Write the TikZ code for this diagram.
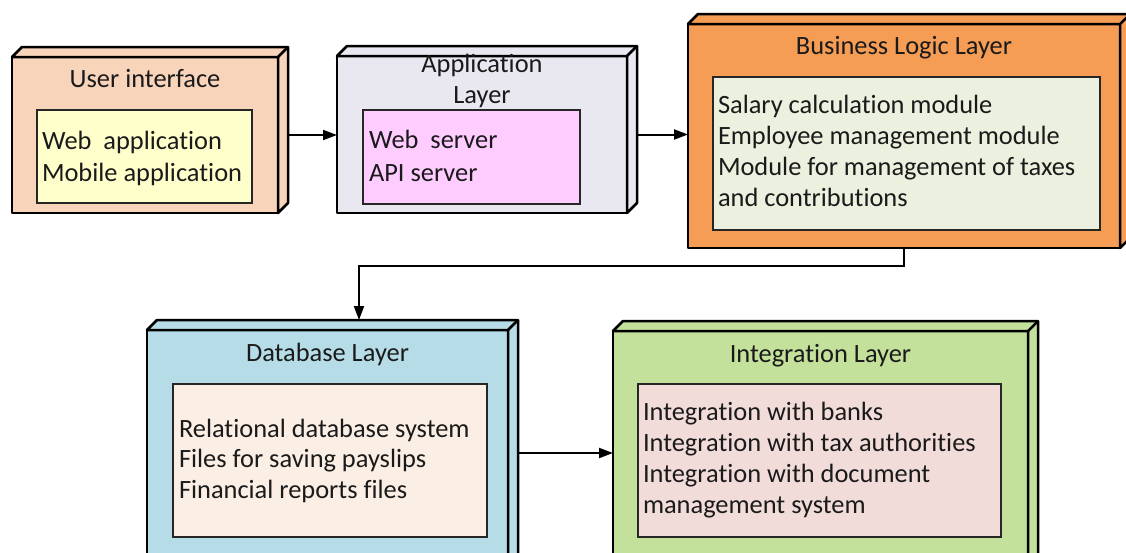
\documentclass[tikz,border=0pt]{standalone}
\usepackage{fontspec}
\setmainfont{Carlito}[Ligatures=NoCommon]
\usetikzlibrary{arrows.meta}

\definecolor{uiface}{HTML}{F8D4BB}
\definecolor{uifill}{HTML}{FFFFCC}
\definecolor{appface}{HTML}{E9E7EF}
\definecolor{appfill}{HTML}{FFCCFF}
\definecolor{blface}{HTML}{F59C55}
\definecolor{blfill}{HTML}{EBF0DF}
\definecolor{dbface}{HTML}{B6DDE7}
\definecolor{dbfill}{HTML}{FBEEE4}
\definecolor{intface}{HTML}{C3E19B}
\definecolor{intfill}{HTML}{F1DCDA}
\definecolor{ink}{HTML}{1A1A1A}

% top and right faces of a layer block, built on the front face node #1
\newcommand\blockdepth[2]{%
  \filldraw[fill=#2, draw=black, line width=2.5pt, line join=round]
    (#1.north west) -- ++(10,-10) -- ([shift={(10,-10)}]#1.north east)
    -- ([shift={(10,-10)}]#1.south east) -- (#1.south east)
    -- (#1.north east) -- cycle;
  \draw[line width=2.5pt] (#1.north east) -- ++(10,-10);
}

\begin{document}
\begin{tikzpicture}[x=1pt, y=-1pt,
  front/.style={draw=black, line width=2.5pt, outer sep=0pt, inner sep=0pt, line join=round},
  panel/.style={draw=black!85, line width=1.7pt, outer sep=0pt, inner sep=0pt},
  txt/.style={inner sep=0pt, outer sep=0pt, text=ink, font=\fontsize{26.4}{31.5}\selectfont},
  flow/.style={line width=2pt, -{Triangle[length=14pt, width=10pt]}}
]
\useasboundingbox (0,0) rectangle (1126,552);
\clip (0,0) rectangle (1126,552);

% ---- User interface ----
\node[front, fill=uiface, minimum width=266pt, minimum height=156pt] (ui) at (145,135) {};
\blockdepth{ui}{uiface}
\node[panel, fill=uifill, minimum width=215pt, minimum height=93pt] (uiin) at (144.5,156.5) {};
\node[txt, anchor=base] (ui-t) at (145,87) {User interface};
\node[txt, anchor=base west] (ui-l1) at (42,149) {Web\ \ application};
\node[txt, anchor=base west] (ui-l2) at (42,181) {Mobile application};

% ---- Application layer ----
\node[front, fill=appface, minimum width=290pt, minimum height=157pt] (app) at (482,134.5) {};
\blockdepth{app}{appface}
\node[panel, fill=appfill, minimum width=217pt, minimum height=94pt] (appin) at (471.5,157) {};
\node[txt, anchor=base] (app-t1) at (482,72) {Application};
\node[txt, anchor=base] (app-t2) at (482,103) {Layer};
\node[txt, anchor=base west] (app-l1) at (369,148) {Web\ \ server};
\node[txt, anchor=base west] (app-l2) at (369,181) {API server};

% ---- Business logic layer ----
\node[front, fill=blface, minimum width=432pt, minimum height=224pt] (bl) at (904,136) {};
\blockdepth{bl}{blface}
\node[panel, fill=blfill, minimum width=387pt, minimum height=153pt] (blin) at (906.5,153.5) {};
\node[txt, anchor=base] (bl-t) at (904,54) {Business Logic Layer};
\foreach \t [count=\k] in {Salary calculation module, Employee management module,
    Module for management of taxes, and contributions}
  \node[txt, anchor=base west] (bl-l\k) at (718,{113+31.3*(\k-1)}) {\t};

% ---- Database layer ----
\node[front, fill=dbface, minimum width=361pt, minimum height=246pt] (db) at (327.5,453) {};
\blockdepth{db}{dbface}
\node[panel, fill=dbfill, minimum width=314pt, minimum height=153pt] (dbin) at (330,460.5) {};
\node[txt, anchor=base] (db-t) at (327.5,361) {Database Layer};
\foreach \t [count=\k] in {Relational database system, Files for saving payslips,
    Financial reports files}
  \node[txt, anchor=base west] (db-l\k) at (179,{437+30.5*(\k-1)}) {\t};

% ---- Integration layer ----
\node[front, fill=intface, minimum width=415pt, minimum height=244pt] (intg) at (820.5,453) {};
\blockdepth{intg}{intface}
\node[panel, fill=intfill, minimum width=363pt, minimum height=153pt] (intin) at (819.5,460.5) {};
\node[txt, anchor=base] (intg-t) at (820.5,362) {Integration Layer};
\foreach \t [count=\k] in {Integration with banks, Integration with tax authorities,
    Integration with document, management system}
  \node[txt, anchor=base west] (intg-l\k) at (643,{420+31*(\k-1)}) {\t};

% ---- connectors ----
\coordinate (dbtop) at (359,320);
\draw[flow] ([xshift=10pt]ui.east) -- (ui.east -| app.west);
\draw[flow] ([xshift=10pt]app.east) -- (app.east -| bl.west);
\draw[flow] (bl.south) -- ++(0,18) -| (dbtop);
\draw[flow] ([xshift=10pt]db.east) -- (db.east -| intg.west);
\end{tikzpicture}
\end{document}
